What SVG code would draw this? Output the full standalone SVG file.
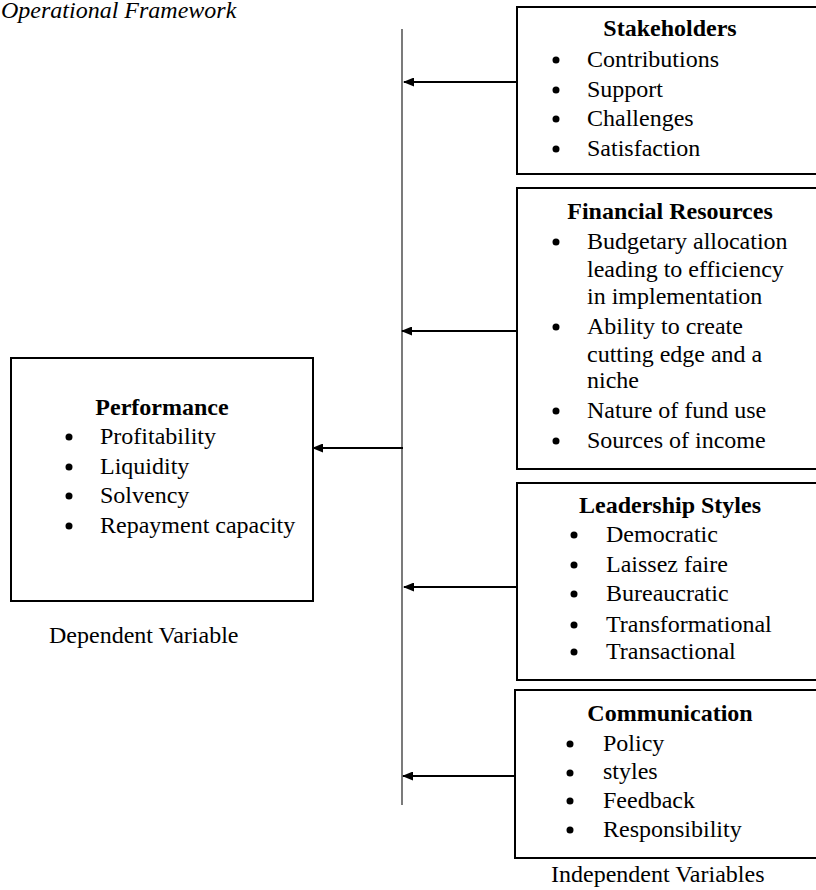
<svg xmlns="http://www.w3.org/2000/svg" width="816" height="890" viewBox="0 0 816 890">
<defs>
<style>
text{font-family:"Liberation Serif","Times New Roman",serif;font-size:24px;fill:#000}
.t{font-weight:bold;text-anchor:middle}
.box{fill:#fff;stroke:#000;stroke-width:2}
.c{stroke:#000;stroke-width:2;fill:none}
.bul{fill:#000}
</style>
<marker id="ah" markerWidth="11" markerHeight="9" refX="10" refY="4.5" orient="auto" markerUnits="userSpaceOnUse">
<path d="M0,0 L11,4.5 L0,9 Z" fill="#000"/>
</marker>
</defs>
<rect width="816" height="890" fill="#fff"/>
<text x="1" y="18" font-style="italic">Operational Framework</text>

<g id="connectors">
<line x1="402" y1="29" x2="402" y2="805" stroke="#222" stroke-width="1.2"/>
<line class="c" x1="517" y1="82" x2="404" y2="82" marker-end="url(#ah)"/>
<line class="c" x1="517" y1="331" x2="402" y2="331" marker-end="url(#ah)"/>
<line class="c" x1="517" y1="587" x2="404" y2="587" marker-end="url(#ah)"/>
<line class="c" x1="515" y1="776" x2="403" y2="776" marker-end="url(#ah)"/>
<line class="c" x1="403" y1="448" x2="313" y2="448" marker-end="url(#ah)"/>
</g>

<g id="performance">
<rect class="box" x="11" y="358" width="302" height="243"/>
<text class="t" x="162" y="415">Performance</text>
<circle class="bul" cx="69" cy="437" r="3.5"/><text x="100" y="444">Profitability</text>
<circle class="bul" cx="69" cy="467" r="3.5"/><text x="100" y="474">Liquidity</text>
<circle class="bul" cx="69" cy="496" r="3.5"/><text x="100" y="503">Solvency</text>
<circle class="bul" cx="69" cy="526" r="3.5"/><text x="100" y="533">Repayment capacity</text>
</g>
<text x="49" y="643">Dependent Variable</text>

<g id="stakeholders">
<rect class="box" x="517" y="7" width="310" height="167"/>
<text class="t" x="670" y="36">Stakeholders</text>
<circle class="bul" cx="556" cy="60" r="3.5"/><text x="587" y="67">Contributions</text>
<circle class="bul" cx="556" cy="90" r="3.5"/><text x="587" y="97">Support</text>
<circle class="bul" cx="556" cy="119" r="3.5"/><text x="587" y="126">Challenges</text>
<circle class="bul" cx="556" cy="149" r="3.5"/><text x="587" y="156">Satisfaction</text>
</g>

<g id="financial">
<rect class="box" x="517" y="188" width="310" height="281"/>
<text class="t" x="670" y="219">Financial Resources</text>
<circle class="bul" cx="556" cy="242" r="3.5"/><text x="587" y="249">Budgetary allocation</text>
<text x="587" y="277">leading to efficiency</text>
<text x="587" y="304">in implementation</text>
<circle class="bul" cx="556" cy="327" r="3.5"/><text x="587" y="334">Ability to create</text>
<text x="587" y="362">cutting edge and a</text>
<text x="587" y="388">niche</text>
<circle class="bul" cx="556" cy="411" r="3.5"/><text x="587" y="418">Nature of fund use</text>
<circle class="bul" cx="556" cy="441" r="3.5"/><text x="587" y="448">Sources of income</text>
</g>

<g id="leadership">
<rect class="box" x="517" y="483" width="310" height="197"/>
<text class="t" x="670" y="513">Leadership Styles</text>
<circle class="bul" cx="574" cy="535" r="3.5"/><text x="606" y="542">Democratic</text>
<circle class="bul" cx="574" cy="565" r="3.5"/><text x="606" y="572">Laissez faire</text>
<circle class="bul" cx="574" cy="594" r="3.5"/><text x="606" y="601">Bureaucratic</text>
<circle class="bul" cx="574" cy="625" r="3.5"/><text x="606" y="632">Transformational</text>
<circle class="bul" cx="574" cy="652" r="3.5"/><text x="606" y="659">Transactional</text>
</g>

<g id="communication">
<rect class="box" x="515" y="690" width="312" height="168"/>
<text class="t" x="670" y="721">Communication</text>
<circle class="bul" cx="570" cy="744" r="3.5"/><text x="603" y="751">Policy</text>
<circle class="bul" cx="570" cy="773" r="3.5"/><text x="603" y="779">styles</text>
<circle class="bul" cx="570" cy="801" r="3.5"/><text x="603" y="808">Feedback</text>
<circle class="bul" cx="570" cy="830" r="3.5"/><text x="603" y="837">Responsibility</text>
</g>
<text x="551" y="882">Independent Variables</text>
</svg>
